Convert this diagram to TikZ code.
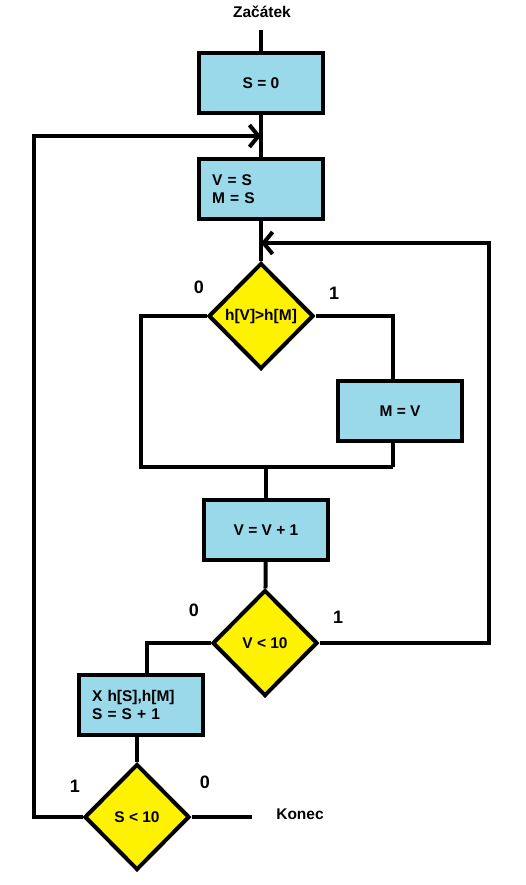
\documentclass[tikz,border=0pt]{standalone}
\usepackage{fontspec}
\setmainfont{Liberation Sans}
\usetikzlibrary{shapes.geometric,arrows.meta}
\definecolor{boxblue}{RGB}{153,217,234}
\definecolor{decyellow}{RGB}{255,242,0}

\tikzset{
  every node/.style={font=\bfseries\fontsize{15.5}{18}\selectfont},
  line/.style={line width=4pt},
  arr/.style={line width=4pt, -{Straight Barb[length=9pt,width=22pt]}},
  proc/.style={draw, line width=4pt, fill=boxblue, minimum width=124pt, minimum height=60pt, inner sep=0pt},
  proctxt/.style={proc, text width=98pt, align=left},
  dec/.style={diamond, draw, line width=4pt, fill=decyellow, minimum width=105pt, minimum height=106pt, inner sep=0pt},
  lbl/.style={inner sep=0pt, font=\bfseries\fontsize{18}{20}\selectfont}
}

\begin{document}
\begin{tikzpicture}[x=1pt, y=-1pt]
\useasboundingbox (0,0) rectangle (525,885);

% boxes and decisions
\node (zac) at (262,12) {Začátek};
\node[proc] (s0) at (261,83) {S = 0};
\node[proctxt] (vm) at (261,189) {V = S\\M = S};
\node[dec] (d1) at (261,316) {h[V]>h[M]};
\node[proc] (mv) at (400,411) {M = V};
\node[proc] (vinc) at (266,530) {V = V + 1};
\node[dec] (d2) at (265,643) {V < 10};
\node[proctxt] (xs) at (141,705) {X h[S],h[M]\\S = S + 1};
\node[dec] (d3) at (137,817) {S < 10};
\node (konec) at (300,814) {Konec};

% branch labels
\node[lbl] (d1no) at (199,287) {0};
\node[lbl] (d1yes) at (334,293) {1};
\node[lbl] (d2no) at (194,610) {0};
\node[lbl] (d2yes) at (338,617) {1};
\node[lbl] (d3yes) at (75,786) {1};
\node[lbl] (d3no) at (205,782) {0};

% helper points
\coordinate (in) at (261,30);
\coordinate (j1) at (261,136);
\coordinate (j2) at (261,243);
\coordinate (ll) at (34,817);
\coordinate (rr) at (489,643);
\coordinate (jl) at (141,467);
\coordinate (jm) at (266,467);
\coordinate (jr) at (393,467);
\coordinate (out) at (252,817);

% main line
\draw[line] (in) -- (s0);
\draw[line] (s0) -- (vm);
\draw[line] (vm) -- (d1);
\draw[line] (jm) -- (vinc);
\draw[line] (vinc) -- (d2);
\draw[line] (d3.north |- xs.south) -- (d3.north);
\draw[line] (d3.east) -- (out);

% inner if
\draw[line] (d1.west) -| (jl) -- (jr);
\draw[line] (d1.east) -| ([xshift=-7pt]mv.north);
\draw[line] ([xshift=-7pt]mv.south) -- (jr);

% loops
\draw[arr] (d2.east) -- (rr) |- (j2);
\draw[line] (d2.west) -| ([xshift=6pt]xs.north);
\draw[arr] (d3.west) -- (ll) |- (j1);
\end{tikzpicture}
\end{document}
